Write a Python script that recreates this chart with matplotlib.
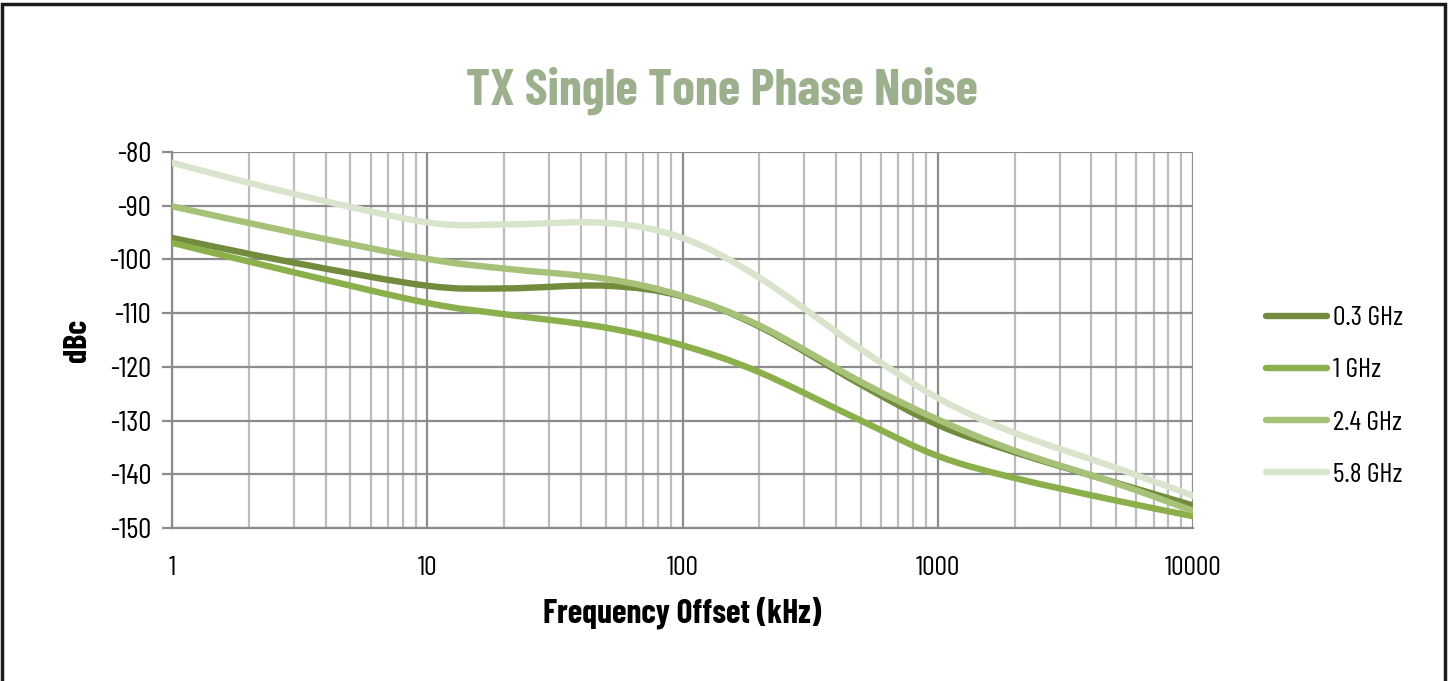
import matplotlib.pyplot as plt
import matplotlib.ticker as mticker
from matplotlib.patches import Rectangle, PathPatch
from matplotlib.path import Path
from matplotlib.lines import Line2D
import numpy as np

plt.rcParams['font.family'] = ['Barlow Condensed', 'Roboto Condensed', 'DejaVu Sans']
plt.rcParams['axes.unicode_minus'] = False

freq = [1, 3, 10, 20, 50, 100, 200, 500, 1000, 2000, 5000, 10000]
pn_03 = [-96.0, -100.6, -104.9, -105.4, -104.9, -106.9, -112.5, -123.3, -130.8,
         -135.9, -141.6, -145.8]
pn_1 = [-96.9, -102.4, -108.1, -110.2, -112.7, -116.0, -121.0, -130.0, -136.6,
        -140.7, -144.9, -147.8]
pn_24 = [-90.1, -95.0, -99.9, -101.7, -103.6, -106.8, -112.3, -122.8, -129.8,
         -135.6, -141.7, -146.8]
pn_58 = [-82.0, -87.8, -93.1, -93.5, -93.2, -96.0, -103.4, -116.7, -125.8,
         -132.3, -138.8, -144.0]

labels = ['0.3 GHz', '1 GHz', '2.4 GHz', '5.8 GHz']
colors = ['#728B3C', '#8BAF4B', '#A6C279', '#D8E4CB']


def smooth_path(xs, ys):
    # Excel-style smoothed line: Catmull-Rom segments as cubic Beziers in log-x space
    lx = np.log10(np.asarray(xs, float))
    y = np.asarray(ys, float)
    n = len(lx)
    verts = [(xs[0], y[0])]
    codes = [Path.MOVETO]
    for i in range(n - 1):
        i0, i3 = max(i - 1, 0), min(i + 2, n - 1)
        c1x = lx[i] + (lx[i + 1] - lx[i0]) / 6
        c1y = y[i] + (y[i + 1] - y[i0]) / 6
        c2x = lx[i + 1] - (lx[i3] - lx[i]) / 6
        c2y = y[i + 1] - (y[i3] - y[i]) / 6
        verts += [(10 ** c1x, c1y), (10 ** c2x, c2y), (xs[i + 1], y[i + 1])]
        codes += [Path.CURVE4] * 3
    return Path(verts, codes)


fig = plt.figure(figsize=(14.5, 6.81), dpi=100)
ax = fig.add_axes([0.1186, 0.2247, 0.7042, 0.5521])

handles = []
for vals, lab, col in zip([pn_03, pn_1, pn_24, pn_58], labels, colors):
    ax.add_patch(PathPatch(smooth_path(freq, vals), fill=False, edgecolor=col, lw=4.6,
                           capstyle='round', joinstyle='round', zorder=3))
    handles.append(Line2D([], [], color=col, lw=4.6, solid_capstyle='round', label=lab))

ax.set_xscale('log')
ax.set_xlim(1, 10000)
ax.set_ylim(-150, -80)
ax.set_yticks(np.arange(-150, -79, 10))
ax.xaxis.set_major_formatter(mticker.FuncFormatter(lambda v, p: f'{v:g}'))
ax.xaxis.set_minor_formatter(mticker.NullFormatter())

ax.grid(which='major', axis='both', color='#8c8c8c', lw=1.6)
ax.grid(which='minor', axis='x', color='#bdbdbd', lw=1.6)
ax.set_axisbelow(True)

for s in ['top', 'right']:
    ax.spines[s].set_visible(False)
for s in ['left', 'bottom']:
    ax.spines[s].set_color('#8c8c8c')
    ax.spines[s].set_linewidth(1.6)

ax.tick_params(axis='y', which='major', length=7, width=1.6, color='#8c8c8c',
               labelsize=21, pad=8)
ax.tick_params(axis='x', which='both', length=0, labelsize=20, pad=20)

ax.set_xlabel('Frequency Offset (kHz)', fontsize=24, fontweight='bold', labelpad=12)
ax.set_ylabel('dBc', fontsize=23, fontweight='bold', labelpad=12)

fig.text(0.498, 0.867, 'TX Single Tone Phase Noise', ha='center', va='center',
         fontsize=37, fontweight='bold', color='#9CB08E')

ax.legend(handles=handles, loc='center left', bbox_to_anchor=(1.047, 0.35),
          frameon=False, fontsize=20, handlelength=2.2, handletextpad=0.2,
          labelspacing=1.0)

fig.patches.append(Rectangle((0.0015, -0.02), 0.995, 1.014, transform=fig.transFigure,
                             fill=False, edgecolor='#1a1a1a', lw=2.5))

fig.savefig('out.png', dpi=100)
